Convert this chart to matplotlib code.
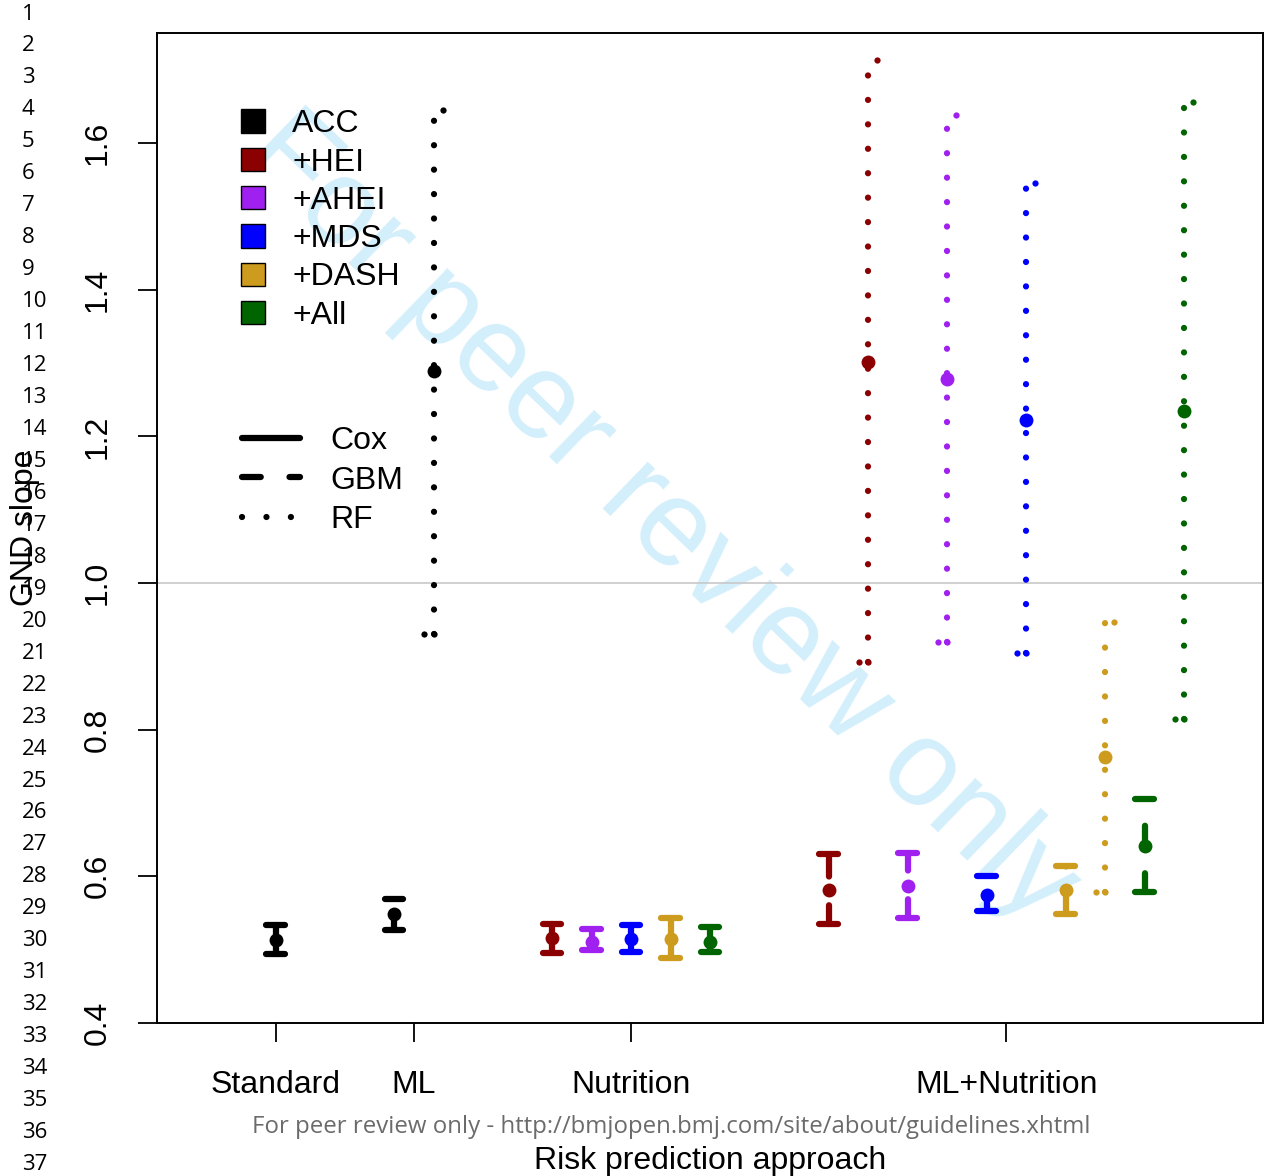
import matplotlib
matplotlib.use("Agg")
import matplotlib.pyplot as plt
from matplotlib.patches import Patch
from matplotlib.lines import Line2D

plt.rcParams['font.family'] = ['Liberation Sans', 'DejaVu Sans']

# models and colours
models = ['ACC', '+HEI', '+AHEI', '+MDS', '+DASH', '+All']
colors = ['#000000', '#8B0000', '#A020F0', '#0000FF', '#CD9B1D', '#006400']
groups = ['Standard', 'ML', 'Nutrition', 'ML+Nutrition']

# Standard (Cox, ACC only)
std_est, std_lo, std_hi = 0.513, 0.494, 0.534
# ML (ACC only): GBM and RF
ml_gbm = (0.548, 0.527, 0.569)
ml_rf = (1.289, 0.930, 1.645)
# Nutrition (Cox), one per model after ACC
nut_est = [0.516, 0.511, 0.515, 0.515, 0.511]
nut_lo = [0.496, 0.499, 0.497, 0.489, 0.497]
nut_hi = [0.535, 0.528, 0.534, 0.543, 0.531]
# ML+Nutrition, GBM
mn_gbm_est = [0.581, 0.587, 0.575, 0.581, 0.641]
mn_gbm_lo = [0.535, 0.543, 0.553, 0.548, 0.578]
mn_gbm_hi = [0.630, 0.632, 0.600, 0.614, 0.705]
# ML+Nutrition, RF
mn_rf_est = [1.302, 1.278, 1.222, 0.763, 1.234]
mn_rf_lo = [0.892, 0.919, 0.904, 0.579, 0.814]
mn_rf_hi = [1.713, 1.638, 1.545, 0.947, 1.656]

LW = 4.5
CAP = 0.24
DASH = (0, (3.0, 4.6))
DOT = (0, (0.01, 3.9))

fig = plt.figure(figsize=(12.72, 11.76), dpi=100)
ax = fig.add_axes([157/1272, 1-1023/1176, 1106/1272, 990/1176])
ax.patch.set_visible(False)


def draw_ci(x, est, lo, hi, color, kind):
    if kind == 'Cox':
        ax.plot([x, x], [lo, hi], color=color, lw=LW, solid_capstyle='round')
    elif kind == 'GBM':
        ax.plot([x, x], [lo, hi], color=color, lw=LW, ls=DASH, dash_capstyle='round')
    else:
        ax.plot([x, x], [lo, hi], color=color, lw=LW, ls=DOT, dash_capstyle='round')
    if kind == 'RF':
        ax.plot([x - CAP, x], [lo, lo], 'o', color=color, ms=4.5, mew=0)
        ax.plot([x + CAP], [hi], 'o', color=color, ms=4.5, mew=0)
    else:
        ax.plot([x - CAP, x + CAP], [lo, lo], color=color, lw=LW, solid_capstyle='round')
        ax.plot([x - CAP, x + CAP], [hi, hi], color=color, lw=LW, solid_capstyle='round')
    ax.plot([x], [est], 'o', color=color, ms=10, mew=0, zorder=3)


ax.axhline(1.0, color='#c8c8c8', lw=1.2, zorder=0)

# Standard
x_std = [7]
draw_ci(7, std_est, std_lo, std_hi, colors[0], 'Cox')
# ML
x_ml = [10, 11]
draw_ci(10, *ml_gbm, colors[0], 'GBM')
draw_ci(11, *ml_rf, colors[0], 'RF')
# Nutrition
x_nut = [14 + i for i in range(5)]
for i, x in enumerate(x_nut):
    draw_ci(x, nut_est[i], nut_lo[i], nut_hi[i], colors[i + 1], 'Cox')
# ML+Nutrition
x_mn = []
for i in range(5):
    xg, xr = 21 + 2 * i, 22 + 2 * i
    x_mn += [xg, xr]
    draw_ci(xg, mn_gbm_est[i], mn_gbm_lo[i], mn_gbm_hi[i], colors[i + 1], 'GBM')
    draw_ci(xr, mn_rf_est[i], mn_rf_lo[i], mn_rf_hi[i], colors[i + 1], 'RF')

ax.set_xlim(4, 32)
ax.set_ylim(0.4, 1.75)
group_x = [sum(g) / len(g) for g in (x_std, x_ml, x_nut, x_mn)]
ax.set_xticks(group_x)
ax.set_xticklabels(groups, fontsize=23)
ax.set_yticks([0.4, 0.6, 0.8, 1.0, 1.2, 1.4, 1.6])
ax.set_yticklabels(['0.4', '0.6', '0.8', '1.0', '1.2', '1.4', '1.6'],
                   fontsize=23, rotation=90, va='center')
ax.tick_params(axis='both', direction='out', length=14, width=1.3)
ax.tick_params(axis='x', pad=20)
ax.tick_params(axis='y', pad=18)
for s in ax.spines.values():
    s.set_linewidth(1.4)

ax.set_xlabel('Risk prediction approach', fontsize=23, va='center')
ax.xaxis.set_label_coords(0.5, (1023 - 1161) / 990)
ax.set_ylabel('GND slope', fontsize=23, va='center')
ax.yaxis.set_label_coords((25 - 157) / 1106, 0.5)

# legends
h1 = [Patch(facecolor=c, edgecolor='black', lw=1.0) for c in colors]
leg1 = ax.legend(h1, models, loc='upper left', bbox_to_anchor=(0.076, 0.923),
                 frameon=False, fontsize=23, handlelength=0.75, handleheight=0.75,
                 handletextpad=0.85, labelspacing=0.26, borderpad=0, borderaxespad=0)
ax.add_artist(leg1)
h2 = [Line2D([], [], color='black', lw=LW, ls='-', solid_capstyle='round'),
      Line2D([], [], color='black', lw=LW, ls=DASH, dash_capstyle='round'),
      Line2D([], [], color='black', lw=LW, ls=DOT, dash_capstyle='round')]
ax.legend(h2, ['Cox', 'GBM', 'RF'], loc='upper left', bbox_to_anchor=(0.077, 0.603),
          frameon=False, fontsize=23, handlelength=1.8, handletextpad=0.95,
          labelspacing=0.3, borderpad=0, borderaxespad=0)

# peer review decorations
fig.text(660/1272, 1-520/1176, 'For peer review only', rotation=-44, fontsize=88,
         color='#d3effb', ha='center', va='center', rotation_mode='anchor', zorder=-5)
fig.text(671/1272, 1-1127/1176,
         'For peer review only - http://bmjopen.bmj.com/site/about/guidelines.xhtml',
         fontsize=17.3, color='#6b6b6b', ha='center', va='center', family='Open Sans')
for n in range(1, 38):
    fig.text(22/1272, 1-(14 + 31.96*(n-1))/1176, str(n), fontsize=16,
             ha='left', va='center', family='Open Sans')

fig.savefig('out.png', dpi=100)
